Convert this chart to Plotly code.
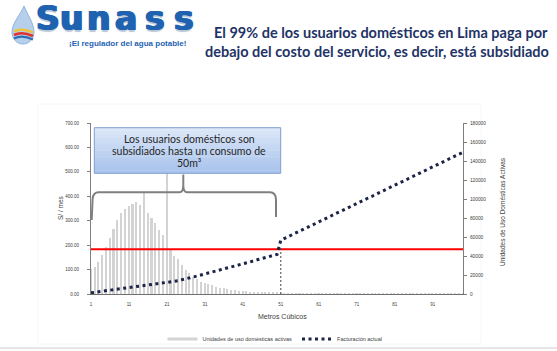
import plotly.graph_objects as go

# ---------------- data ----------------
consumo_m3 = list(range(1, 100))

unidades_activas = [
    26000, 28000, 33900, 41100, 49900, 58600, 68100, 77900, 84900, 89200,
    92600, 94600, 97200, 93600, 107000, 85100, 79700, 74300, 67400, 62000,
    127000, 46300, 39900, 36500, 30600, 25200, 22100, 18300, 15400, 12900,
    11600, 10300, 9000, 7700, 6700, 5900, 5100, 4600, 4100, 3600,
    3100, 2800, 2600, 2300, 2100, 1800, 1500, 1500, 1300, 1300,
    1000, 800, 700, 650, 600, 550, 500, 450, 420, 400,
    380, 350, 330, 300, 280, 260, 250, 240, 220, 200,
    190, 180, 170, 160, 150, 140, 130, 120, 115, 110,
    105, 100, 95, 90, 85, 80, 75, 70, 65, 60,
    58, 55, 52, 50, 48, 45, 42, 40, 38,
]

facturacion_actual = [
    5, 7, 9, 11, 13, 15, 17, 19, 21, 23,
    26, 28, 30, 32, 34, 36, 38, 40, 43, 45,
    46, 49, 52, 55, 58, 62, 66, 70, 74, 78,
    83, 87, 91, 95, 99, 103, 107, 112, 116, 120,
    124, 128, 132, 136, 141, 145, 149, 153, 157, 162,
    220, 228, 235, 243, 250, 258, 265, 273, 280, 288,
    295, 303, 310, 318, 325, 333, 340, 348, 355, 363,
    370, 378, 385, 393, 400, 408, 415, 423, 430, 438,
    445, 453, 460, 468, 475, 483, 490, 498, 505, 513,
    520, 528, 535, 543, 550, 558, 565, 573, 580,
]

costo_servicio = 183          # S/ per month (red line)
limite_subsidio = 51          # m3
x_ticks = [1, 11, 21, 31, 41, 51, 61, 71, 81, 91]
y_left_ticks = [0, 100, 200, 300, 400, 500, 600, 700]
y_right_ticks = [0, 20000, 40000, 60000, 80000, 100000, 120000, 140000, 160000, 180000]

titulo_1 = "El 99% de los usuarios domésticos en Lima paga por"
titulo_2 = "debajo del costo del servicio, es decir, está subsidiado"
caja_lineas = ["Los usuarios domésticos son", "subsidiados hasta un consumo de", "50m³"]

# ---------------- layout geometry ----------------
W, H = 557, 351
L, R, T, B = 91, 463, 123, 294


def px(x):
    return (x - L) / (R - L)


def py(y):
    return (B - y) / (B - T)


def to_path(pts):
    return " ".join(cmd + " " + " ".join("%.5f,%.5f" % (px(a), py(b)) for a, b in ps)
                    for cmd, ps in pts)


fig = go.Figure()

fig.add_trace(go.Bar(
    x=consumo_m3, y=unidades_activas, width=0.42,
    marker=dict(color="#d3d3d3", line=dict(width=0)),
    name="Unidades de uso domésticas activas", showlegend=False,
    yaxis="y",
))

fig.add_trace(go.Scatter(
    x=[consumo_m3[0], consumo_m3[-1]], y=[costo_servicio, costo_servicio],
    mode="lines", line=dict(color="#ff0000", width=2),
    showlegend=False, yaxis="y2", hoverinfo="skip",
))

fig.add_trace(go.Scatter(
    x=consumo_m3, y=facturacion_actual, mode="lines",
    line=dict(color="#1c2448", width=3, dash="3px,3.5px"),
    name="Facturación actual", showlegend=False, yaxis="y2",
))

# legend entries
fig.add_trace(go.Scatter(
    x=[None], y=[None], mode="lines",
    line=dict(color="#d3d3d3", width=3),
    name="Unidades de uso domésticas activas", yaxis="y2",
))
fig.add_trace(go.Scatter(
    x=[None], y=[None], mode="lines",
    line=dict(color="#1c2448", width=3, dash="3px,3.5px"),
    name="Facturación actual", yaxis="y2",
))

shapes = []

# faint slide frame
shapes.append(dict(type="rect", xref="paper", yref="paper",
                   x0=px(38), x1=px(481), y0=py(104), y1=py(344),
                   line=dict(color="#f6f6f6", width=1), layer="below"))
shapes.append(dict(type="line", xref="paper", yref="paper",
                   x0=px(0), x1=px(W), y0=py(348), y1=py(348),
                   line=dict(color="#dedede", width=1.5)))

# dashed vertical at subsidy limit
shapes.append(dict(type="line", xref="x", yref="y2",
                   x0=limite_subsidio, x1=limite_subsidio, y0=0,
                   y1=(facturacion_actual[limite_subsidio - 2] + facturacion_actual[limite_subsidio - 1]) / 2 + 5,
                   line=dict(color="#404040", width=1, dash="2px,2px"), layer="above"))

# callout box with gradient
bx0, bx1, by0, by1 = 94.3, 280.7, 127.7, 173.3
top_c = (221, 232, 248)
bot_c = (166, 194, 236)
n = 16
for i in range(n):
    t = (i + 0.5) / n
    c = tuple(int(top_c[k] + (bot_c[k] - top_c[k]) * t) for k in range(3))
    y0 = by0 + (by1 - by0) * i / n
    y1 = by0 + (by1 - by0) * (i + 1) / n + 0.3
    shapes.append(dict(type="rect", xref="paper", yref="paper",
                       x0=px(bx0), x1=px(bx1), y0=py(y0), y1=py(min(y1, by1)),
                       fillcolor="rgb(%d,%d,%d)" % c, line=dict(width=0), layer="above"))
shapes.append(dict(type="rect", xref="paper", yref="paper",
                   x0=px(bx0), x1=px(bx1), y0=py(by0), y1=py(by1),
                   line=dict(color="#7f9ed0", width=1), layer="above"))

# brace
brace = [
    ("M", [(91.7, 220)]), ("L", [(92.6, 199)]), ("Q", [(93.2, 192.3), (98.5, 192.3)]),
    ("L", [(179.5, 192.3)]), ("Q", [(183.3, 192.3), (183.3, 185)]), ("L", [(183.3, 174.5)]),
    ("L", [(183.3, 185)]), ("Q", [(183.3, 192.3), (187.1, 192.3)]),
    ("L", [(270, 192.3)]), ("Q", [(276, 192.3), (276, 200)]), ("L", [(276, 217)]),
]
shapes.append(dict(type="path", xref="paper", yref="paper", path=to_path(brace),
                   line=dict(color="#7f7f7f", width=2), layer="above"))

# drop logo
drop = [("M", [(24, 6)]), ("C", [(21, 14), (12, 23), (12, 32)]),
        ("C", [(12, 39), (17, 44), (23, 44)]), ("C", [(29, 44), (34, 39), (34, 32)]),
        ("C", [(34, 23), (27, 14), (24, 6)])]
shapes.append(dict(type="path", xref="paper", yref="paper", path=to_path(drop) + " Z",
                   fillcolor="#b6d0ec", line=dict(color="#8db3dd", width=1)))
for col, yy, w in [("#f2c230", 30.5, 2.2), ("#e0322d", 34, 2.6), ("#2f6fb8", 37.5, 2.2)]:
    sw = [("M", [(14, yy + 1)]), ("Q", [(22, yy - 3), (33, yy + 2)])]
    shapes.append(dict(type="path", xref="paper", yref="paper", path=to_path(sw),
                       line=dict(color=col, width=w)))

annotations = []

# Sunass letters
logo_font = dict(family="DejaVu Sans", size=33, color="#1f62b0",
                 shadow="1px 0px 0px #1f62b0, -1px 0px 0px #1f62b0, 0px 1.5px 1px #b9c6d6")
for ch, cx in zip("Sunass", [47.5, 71.5, 98.5, 125.5, 155, 183.5]):
    annotations.append(dict(text="<b>%s</b>" % ch, x=px(cx), y=py(32), xref="paper", yref="paper",
                            xanchor="center", yanchor="bottom", showarrow=False,
                            yshift=-8, font=logo_font))
annotations.append(dict(text="<b>¡El regulador del agua potable!</b>", x=px(127.5), y=py(43.5),
                        xref="paper", yref="paper", xanchor="center", yanchor="middle",
                        showarrow=False, font=dict(family="Liberation Sans", size=8, color="#1f62b0")))

# headline
annotations.append(dict(text="<b>%s</b>" % titulo_1, x=px(381), y=py(32), xref="paper", yref="paper",
                        xanchor="center", yanchor="middle", showarrow=False,
                        font=dict(family="Lato", size=14.5, color="#1f3466")))
annotations.append(dict(text="<b>%s</b>" % titulo_2, x=px(377), y=py(51.5), xref="paper", yref="paper",
                        xanchor="center", yanchor="middle", showarrow=False,
                        font=dict(family="Lato", size=14.5, color="#1f3466")))

# callout text
for line_txt, yy in zip(caja_lineas, [139, 151, 162.5]):
    annotations.append(dict(text=line_txt, x=px(189), y=py(yy), xref="paper", yref="paper",
                            xanchor="center", yanchor="middle", showarrow=False,
                            font=dict(family="Lato", size=10.5, color="#262626")))

# axis titles
annotations.append(dict(text="S/ / mes", x=px(60), y=py(208), xref="paper", yref="paper",
                        textangle=-90, xanchor="center", yanchor="middle", showarrow=False,
                        font=dict(family="Liberation Sans", size=6.5, color="#404040")))
annotations.append(dict(text="Unidades de Uso Domésticas Activas", x=px(502), y=py(211),
                        xref="paper", yref="paper", textangle=-90, xanchor="center",
                        yanchor="middle", showarrow=False,
                        font=dict(family="Liberation Sans", size=6.5, color="#404040")))
annotations.append(dict(text="Metros Cúbicos", x=px(282), y=py(316), xref="paper", yref="paper",
                        xanchor="center", yanchor="middle", showarrow=False,
                        font=dict(family="Liberation Sans", size=7, color="#404040")))

fig.update_layout(
    width=W, height=H,
    margin=dict(l=L, r=W - R, t=T, b=H - B, pad=0, autoexpand=False),
    paper_bgcolor="white", plot_bgcolor="white",
    bargap=0,
    xaxis=dict(range=[1, 99], tickvals=x_ticks, ticks="", showgrid=False, zeroline=False,
               showline=True, linecolor="#6f6f6f", linewidth=1,
               tickfont=dict(family="Liberation Sans", size=4.5, color="#404040"),
               ticklabelstandoff=6, automargin=False),
    yaxis=dict(range=[0, 180000], tickvals=y_right_ticks, side="right", showgrid=False,
               zeroline=False, showline=True, linecolor="#7f7f7f", linewidth=1,
               ticks="outside", ticklen=3, tickcolor="#7f7f7f", tickformat="d",
               tickfont=dict(family="Liberation Sans", size=4.8, color="#404040"),
               ticklabelstandoff=2, automargin=False),
    yaxis2=dict(range=[0, 700], tickvals=y_left_ticks, overlaying="y", side="left",
                showgrid=False, zeroline=False, showline=True, linecolor="#7f7f7f",
                linewidth=1, ticks="outside", ticklen=3, tickcolor="#7f7f7f",
                tickformat=".2f",
                tickfont=dict(family="Liberation Sans", size=4.5, color="#404040"),
                ticklabelstandoff=7, automargin=False),
    legend=dict(orientation="h", x=px(275), xanchor="center", y=py(339), yanchor="middle",
                font=dict(family="Liberation Sans", size=5.5, color="#404040"),
                itemwidth=30, bgcolor="rgba(0,0,0,0)"),
    shapes=shapes, annotations=annotations,
    showlegend=True,
)

fig.write_html("out.html")
